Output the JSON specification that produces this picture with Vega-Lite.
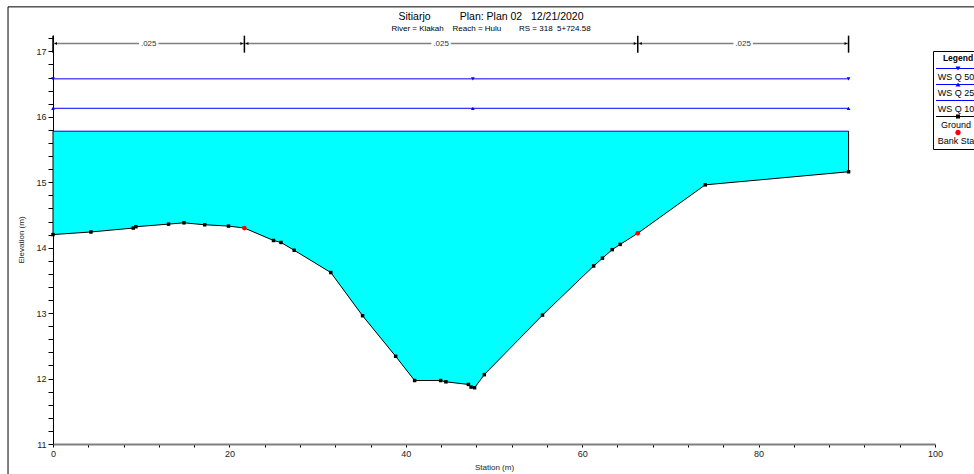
{
  "$schema": "https://vega.github.io/schema/vega-lite/v6.json",
  "width": 882,
  "height": 409,
  "autosize": "none",
  "padding": {"left": 53, "top": 35, "right": 39, "bottom": 30},
  "background": "white",
  "config": {"font": "Liberation Sans", "view": {"stroke": null}},
  "title": {
    "text": "Sitiarjo\u00a0\u00a0\u00a0\u00a0\u00a0\u00a0\u00a0\u00a0\u00a0\u00a0Plan: Plan 02\u00a0\u00a0\u00a012/21/2020",
    "subtitle": "River = Klakah\u00a0\u00a0\u00a0\u00a0Reach = Hulu\u00a0\u00a0\u00a0\u00a0\u00a0\u00a0\u00a0\u00a0RS = 318\u00a0\u00a05+724.58",
    "anchor": "middle",
    "frame": "group",
    "dx": -3,
    "fontSize": 10.5,
    "fontWeight": "normal",
    "color": "#000000",
    "subtitleFontSize": 8,
    "subtitleColor": "#000000",
    "subtitlePadding": 2,
    "offset": -26.4
  },
  "datasets": {
    "frame": [
      {"station": -5.1, "elev": 17.68}
    ],
    "ground": [
      {"station": 0, "elev": 14.20, "point": "ground"},
      {"station": 4.3, "elev": 14.24, "point": "ground"},
      {"station": 9.1, "elev": 14.30, "point": "ground"},
      {"station": 9.4, "elev": 14.32, "point": "ground"},
      {"station": 13.1, "elev": 14.36, "point": "ground"},
      {"station": 14.85, "elev": 14.38, "point": "ground"},
      {"station": 17.2, "elev": 14.35, "point": "ground"},
      {"station": 19.9, "elev": 14.33, "point": "ground"},
      {"station": 21.7, "elev": 14.30, "point": "bank"},
      {"station": 25.0, "elev": 14.11, "point": "ground"},
      {"station": 25.85, "elev": 14.08, "point": "ground"},
      {"station": 27.35, "elev": 13.96, "point": "ground"},
      {"station": 31.5, "elev": 13.62, "point": "ground"},
      {"station": 35.1, "elev": 12.96, "point": "ground"},
      {"station": 38.85, "elev": 12.34, "point": "ground"},
      {"station": 41.0, "elev": 11.97, "point": "ground"},
      {"station": 43.95, "elev": 11.97, "point": "ground"},
      {"station": 44.55, "elev": 11.95, "point": "ground"},
      {"station": 47.1, "elev": 11.91, "point": "ground"},
      {"station": 47.4, "elev": 11.87, "point": "ground"},
      {"station": 47.8, "elev": 11.86, "point": "ground"},
      {"station": 48.9, "elev": 12.06, "point": "ground"},
      {"station": 55.5, "elev": 12.97, "point": "ground"},
      {"station": 61.3, "elev": 13.72, "point": "ground"},
      {"station": 62.3, "elev": 13.84, "point": "ground"},
      {"station": 63.4, "elev": 13.97, "point": "ground"},
      {"station": 64.3, "elev": 14.05, "point": "ground"},
      {"station": 66.3, "elev": 14.22, "point": "bank"},
      {"station": 73.95, "elev": 14.96, "point": "ground"},
      {"station": 90.2, "elev": 15.16, "point": "ground"}
    ],
    "groundEnds": [
      {"station": 0, "elev": 14.20},
      {"station": 90.2, "elev": 15.16}
    ],
    "ws": [
      {"profile": "WS Q 50", "elev": 16.58, "station": 0, "end": 90.2},
      {"profile": "WS Q 25", "elev": 16.13, "station": 0, "end": 90.2},
      {"profile": "WS Q 10", "elev": 15.78, "station": 0, "end": 90.2}
    ],
    "wsMarkers": [
      {"profile": "WS Q 50", "station": 0, "elev": 16.58},
      {"profile": "WS Q 50", "station": 47.6, "elev": 16.58},
      {"profile": "WS Q 50", "station": 90.2, "elev": 16.58},
      {"profile": "WS Q 25", "station": 0, "elev": 16.13},
      {"profile": "WS Q 25", "station": 47.6, "elev": 16.13},
      {"profile": "WS Q 25", "station": 90.2, "elev": 16.13}
    ],
    "nLines": [
      {"station": 0, "end": 9.75, "elev": 17.12},
      {"station": 11.95, "end": 21.7, "elev": 17.12},
      {"station": 21.7, "end": 42.9, "elev": 17.12},
      {"station": 45.1, "end": 66.3, "elev": 17.12},
      {"station": 66.3, "end": 77.15, "elev": 17.12},
      {"station": 79.35, "end": 90.2, "elev": 17.12}
    ],
    "nBreaks": [
      {"station": 0, "elev": 16.98, "top": 17.24},
      {"station": 21.7, "elev": 16.98, "top": 17.24},
      {"station": 66.3, "elev": 16.98, "top": 17.24},
      {"station": 90.2, "elev": 16.98, "top": 17.24}
    ],
    "nArrows": [
      {"station": 0.3, "elev": 17.12, "dir": "left"},
      {"station": 22.0, "elev": 17.12, "dir": "left"},
      {"station": 66.6, "elev": 17.12, "dir": "left"},
      {"station": 21.4, "elev": 17.12, "dir": "right"},
      {"station": 66.0, "elev": 17.12, "dir": "right"},
      {"station": 89.9, "elev": 17.12, "dir": "right"}
    ],
    "nValues": [
      {"station": 10.85, "elev": 17.12, "n": ".025"},
      {"station": 44.0, "elev": 17.12, "n": ".025"},
      {"station": 78.25, "elev": 17.12, "n": ".025"}
    ],
    "legendItems": [
      {"series": "WS Q 50"},
      {"series": "WS Q 25"},
      {"series": "WS Q 10"},
      {"series": "Ground"},
      {"series": "Bank Sta"}
    ]
  },
  "encoding": {
    "x": {
      "field": "station",
      "type": "quantitative",
      "scale": {"domain": [0, 100], "nice": false, "zero": false},
      "axis": {
        "title": "Station (m)",
        "values": [0, 4, 8, 12, 16, 20, 24, 28, 32, 36, 40, 44, 48, 52, 56, 60, 64, 68, 72, 76, 80, 84, 88, 92, 96, 100],
        "labelExpr": "datum.value % 20 === 0 ? datum.label : ''",
        "labelOverlap": false,
        "labelFlush": false,
        "grid": false,
        "domainColor": "#7f7f7f",
        "domainWidth": 2,
        "tickColor": "#000000",
        "tickSize": 3,
        "labelFontSize": 9,
        "labelColor": "#222222",
        "labelPadding": 2,
        "titleFontSize": 8,
        "titleFontWeight": "normal",
        "titleColor": "#222222",
        "titlePadding": 5
      }
    },
    "y": {
      "field": "elev",
      "type": "quantitative",
      "scale": {"domain": [11, 17.25], "nice": false, "zero": false},
      "axis": {
        "title": "Elevation (m)",
        "values": [11, 11.2, 11.4, 11.6, 11.8, 12, 12.2, 12.4, 12.6, 12.8, 13, 13.2, 13.4, 13.6, 13.8, 14, 14.2, 14.4, 14.6, 14.8, 15, 15.2, 15.4, 15.6, 15.8, 16, 16.2, 16.4, 16.6, 16.8, 17, 17.2],
        "labelExpr": "abs(datum.value - round(datum.value)) < 0.01 ? format(datum.value, 'd') : ''",
        "labelOverlap": false,
        "labelFlush": false,
        "grid": false,
        "domainColor": "#000000",
        "tickColor": "#000000",
        "tickSize": 5,
        "labelFontSize": 9,
        "labelColor": "#222222",
        "labelPadding": 2,
        "titleFontSize": 8,
        "titleFontWeight": "normal",
        "titleColor": "#222222",
        "titlePadding": 10
      }
    }
  },
  "layer": [
    {
      "data": {"name": "frame"},
      "mark": {"type": "rect", "clip": false, "filled": false, "stroke": "#000000", "strokeWidth": 1},
      "encoding": {
        "x2": {"datum": 130},
        "y2": {"datum": 9}
      }
    },
    {
      "data": {"name": "ground"},
      "mark": {"type": "area", "color": "#00FFFF", "opacity": 1},
      "encoding": {"y2": {"datum": 15.78}}
    },
    {
      "data": {"name": "ws"},
      "mark": {"type": "rule", "color": "#0000FF", "strokeWidth": 1},
      "encoding": {"x2": {"field": "end"}}
    },
    {
      "data": {"name": "groundEnds"},
      "mark": {"type": "rule", "color": "#000000", "strokeWidth": 1},
      "encoding": {"y2": {"datum": 15.78}}
    },
    {
      "data": {"name": "ground"},
      "mark": {"type": "line", "color": "#000000", "strokeWidth": 1}
    },
    {
      "data": {"name": "ground"},
      "transform": [{"filter": "datum.point === 'ground'"}],
      "mark": {"type": "square", "filled": true, "color": "#000000", "size": 12, "opacity": 1}
    },
    {
      "data": {"name": "ground"},
      "transform": [{"filter": "datum.point === 'bank'"}],
      "mark": {"type": "circle", "color": "#FF0000", "size": 22, "opacity": 1}
    },
    {
      "data": {"name": "wsMarkers"},
      "transform": [{"filter": "datum.profile === 'WS Q 50'"}],
      "mark": {"type": "point", "shape": "triangle-down", "filled": true, "color": "#0000FF", "size": 14, "opacity": 1}
    },
    {
      "data": {"name": "wsMarkers"},
      "transform": [{"filter": "datum.profile === 'WS Q 25'"}],
      "mark": {"type": "point", "shape": "triangle-up", "filled": true, "color": "#0000FF", "size": 14, "opacity": 1}
    },
    {
      "data": {"name": "nLines"},
      "mark": {"type": "rule", "color": "#808080", "strokeWidth": 1.5},
      "encoding": {"x2": {"field": "end"}}
    },
    {
      "data": {"name": "nBreaks"},
      "mark": {"type": "rule", "color": "#000000", "strokeWidth": 1.5},
      "encoding": {"y2": {"field": "top"}}
    },
    {
      "data": {"name": "nArrows"},
      "transform": [{"filter": "datum.dir === 'left'"}],
      "mark": {"type": "point", "shape": "triangle-left", "filled": true, "color": "#000000", "size": 10, "opacity": 1}
    },
    {
      "data": {"name": "nArrows"},
      "transform": [{"filter": "datum.dir === 'right'"}],
      "mark": {"type": "point", "shape": "triangle-right", "filled": true, "color": "#000000", "size": 10, "opacity": 1}
    },
    {
      "data": {"name": "nValues"},
      "mark": {"type": "text", "fontSize": 8, "baseline": "middle", "align": "center", "color": "#333333"},
      "encoding": {"text": {"field": "n"}}
    },
    {
      "data": {"name": "legendItems"},
      "mark": {"type": "point", "filled": true, "clip": true, "size": 196, "opacity": 1},
      "encoding": {
        "color": {
          "field": "series",
          "type": "nominal",
          "scale": {
            "domain": ["WS Q 50", "WS Q 25", "WS Q 10", "Ground", "Bank Sta"],
            "range": ["#0000FF", "#0000FF", "#0000FF", "#000000", "#FF0000"]
          },
          "legend": {
            "title": "Legend",
            "orient": "none",
            "legendX": 880,
            "legendY": 16,
            "padding": 3,
            "fillColor": "#FFFFFF",
            "strokeColor": "#000000",
            "titleFontSize": 8.5,
            "titleFontWeight": "bold",
            "titleColor": "#000000",
            "titleAnchor": "middle",
            "titlePadding": 3,
            "labelFontSize": 9,
            "labelColor": "#000000",
            "labelAlign": "center",
            "labelBaseline": "top",
            "labelOffset": -9,
            "labelLimit": 120,
            "symbolSize": 196,
            "symbolOffset": 15,
            "symbolStrokeWidth": 0,
            "symbolOpacity": 1,
            "rowPadding": 0
          }
        },
        "shape": {
          "field": "series",
          "type": "nominal",
          "scale": {
            "domain": ["WS Q 50", "WS Q 25", "WS Q 10", "Ground", "Bank Sta"],
            "range": [
              "M-3.143,-0.643H3.143V-0.5H-3.143Z M-0.357,-0.857H0.357L0,-0.286Z",
              "M-3.143,-0.643H3.143V-0.5H-3.143Z M-0.357,-0.286L0,-0.857L0.357,-0.286Z",
              "M-3.143,-0.643H3.143V-0.5H-3.143Z",
              "M-3.143,-0.643H3.143V-0.5H-3.143Z M-0.286,-0.857H0.286V-0.286H-0.286Z",
              "M-0.386,-0.571A0.386,0.386,0,1,1,0.386,-0.571A0.386,0.386,0,1,1,-0.386,-0.571Z"
            ]
          }
        }
      }
    }
  ]
}
